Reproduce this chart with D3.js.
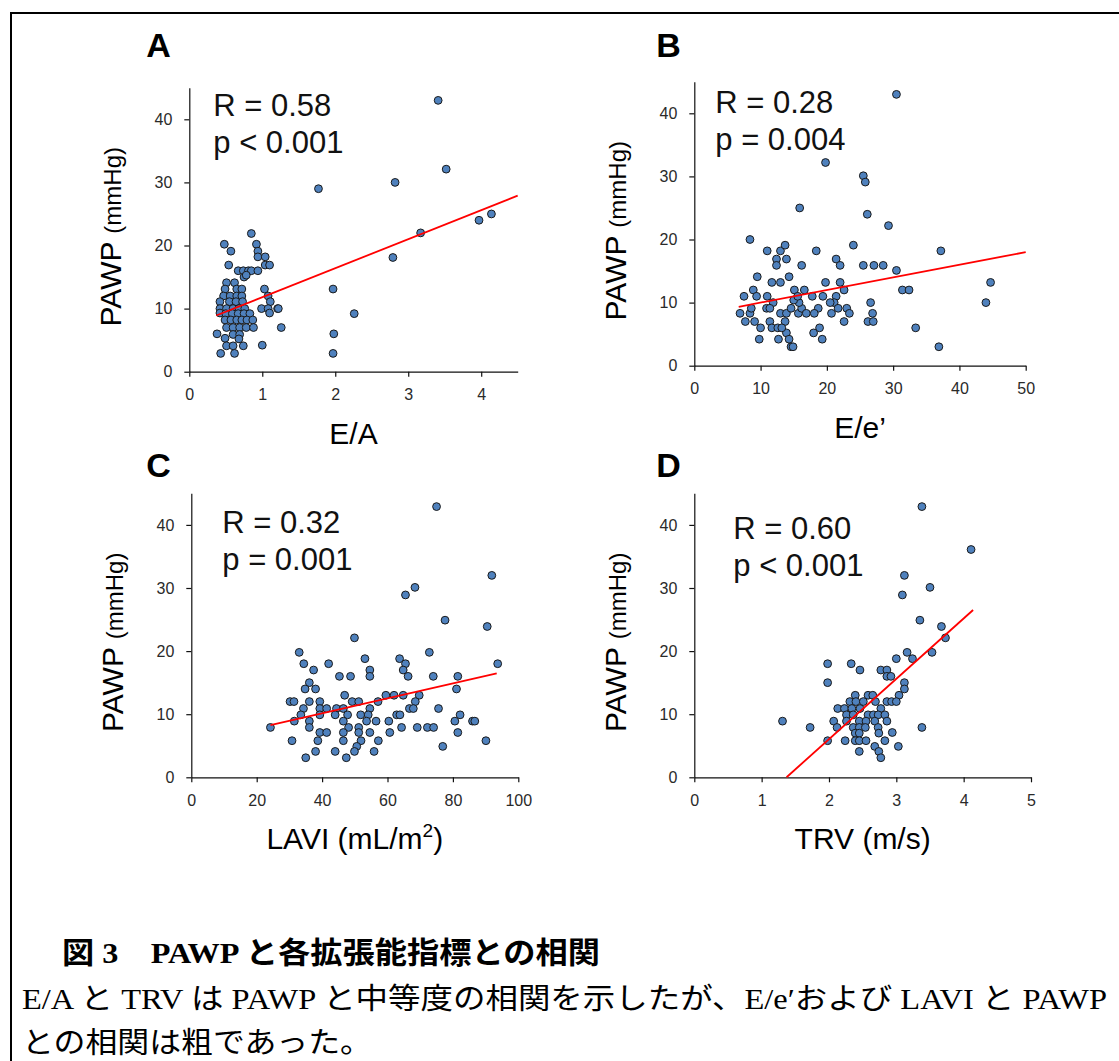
<!DOCTYPE html>
<html>
<head>
<meta charset="utf-8">
<script src="https://cdn.jsdelivr.net/npm/d3@7"></script>
<style>
  body { margin: 0; background: #fff; }
  svg { display: block; }
</style>
</head>
<body>
<script>
// ---- data ----
// A: E/A vs PAWP
const eaPoints = [
  [3.41, 43], [3.52, 32.1], [2.82, 30], [1.77, 29], [4.14, 25], [3.97, 24], [3.17, 22],
  [2.79, 18.1], [1.97, 13.1], [2.26, 9.2], [1.98, 6], [1.97, 2.9], [1.26, 7], [1.21, 10],
  [1.0, 4.2], [0.38, 6],
  [0.85, 21.9], [0.48, 20.2], [0.92, 20.2], [0.57, 19.1], [0.94, 19.1], [0.94, 18.2],
  [1.04, 18.2], [0.54, 16.9], [1.04, 16.9], [1.10, 16.9],
  [0.67, 16], [0.74, 16], [0.81, 16], [0.85, 16], [0.94, 16], [0.75, 15], [0.78, 15.3],
  [0.51, 14.1], [0.62, 14.1],
  [0.49, 13.1], [0.65, 13.1], [0.72, 13.1], [1.03, 13.1],
  [0.47, 12], [0.56, 12], [0.65, 12], [0.72, 12], [1.08, 12],
  [0.42, 11.1], [0.55, 11.1], [0.64, 11.1], [0.73, 11.1], [1.11, 11.1],
  [0.42, 10], [0.51, 10], [0.60, 10], [0.68, 10], [0.76, 10], [0.99, 10], [1.08, 10], [1.22, 10],
  [0.42, 9.3], [0.50, 9.2], [0.59, 9.2], [0.67, 9.2], [0.75, 9.2], [0.83, 9.2], [1.10, 9.3],
  [0.49, 8.2], [0.57, 8.2], [0.65, 8.2], [0.72, 8.2], [0.79, 8.2], [0.87, 8.2],
  [0.51, 7], [0.60, 7], [0.69, 7], [0.78, 7], [0.88, 7],
  [0.60, 5.9], [0.69, 5.9], [0.49, 5.3], [0.68, 5.2],
  [0.51, 4.1], [0.60, 4.1], [0.74, 4.1],
  [0.43, 2.9], [0.62, 2.9]
];
// B: E/e' vs PAWP
const eePoints = [
  [30.5, 43], [19.8, 32.2], [25.5, 30.1], [25.8, 29.1], [26.1, 24], [15.9, 25], [29.3, 22.2],
  [8.4, 20], [24.0, 19.1], [37.2, 18.2], [18.4, 18.2], [11.0, 18.2], [13.0, 18.2], [13.7, 19.1],
  [12.4, 16.9], [13.9, 16.9], [12.4, 15.9], [16.2, 15.9], [21.4, 16.9], [22.0, 15.9],
  [25.5, 15.9], [27.1, 15.9], [28.5, 15.9], [30.5, 15.1],
  [9.5, 14.1], [14.3, 14.1], [11.7, 13.2], [13.0, 13.2], [19.8, 13.2], [22.0, 13.2], [44.7, 13.2],
  [31.4, 12], [32.4, 12], [7.5, 11], [8.9, 12], [9.4, 11], [11.0, 11], [15.1, 12], [16.6, 12],
  [22.6, 12], [17.8, 11], [19.4, 11], [21.4, 11], [26.6, 10], [44.0, 10],
  [6.9, 8.3], [8.4, 8.3], [8.6, 9.1], [7.7, 7], [9.1, 7], [10.0, 6], [9.8, 4.2],
  [11.4, 7], [11.7, 6], [12.7, 4.2], [13.0, 8.3], [13.9, 8.3], [13.7, 7], [13.9, 5.2],
  [14.3, 4.2], [14.6, 3], [14.9, 3], [14.6, 9.1], [15.7, 8.3], [16.2, 9.1], [16.9, 8.3],
  [18.0, 5.2], [18.9, 6], [19.3, 4.2], [18.7, 9.1], [18.1, 8.3], [20.7, 8.3], [21.1, 10],
  [20.5, 10], [21.7, 9.1], [23.0, 9.1], [23.4, 8.3], [22.6, 7], [26.2, 7], [27.0, 7],
  [26.9, 8.3], [33.4, 6], [36.9, 3],
  [15.8, 10], [15.0, 10.4], [15.6, 11], [11.9, 10], [10.9, 9.1], [11.4, 9.1], [12.6, 6], [13.2, 6]
];
// C: LAVI vs PAWP
const laviPoints = [
  [75.0, 42.9], [91.9, 32], [68.4, 30.1], [65.5, 28.9], [77.6, 24.9], [90.5, 23.9], [49.9, 22.1],
  [33.0, 19.8], [72.8, 19.8], [63.7, 18.8], [53.1, 18.8], [34.4, 18], [42.0, 18], [65.5, 18],
  [93.7, 18], [37.4, 17], [54.6, 17], [64.8, 17], [45.3, 16], [48.7, 16], [54.6, 16], [66.3, 16],
  [74.0, 16], [81.5, 16], [36.1, 15], [34.8, 14], [38.0, 14], [81.1, 14],
  [46.9, 13], [59.5, 13], [62.0, 13], [64.8, 13], [69.7, 13],
  [30.2, 12], [31.4, 12], [36.1, 12], [39.3, 12], [49.2, 12], [51.2, 12], [57.1, 12], [68.5, 12],
  [34.3, 10.9], [39.3, 10.9], [41.4, 10.9], [44.4, 10.9], [46.5, 10.9], [54.6, 10.9], [66.7, 10.9],
  [67.9, 10.9], [75.6, 10.9],
  [33.5, 9.9], [39.3, 9.9], [44.0, 9.9], [47.8, 9.9], [51.8, 9.9], [54.1, 9.9], [62.8, 9.9],
  [63.8, 9.9], [82.2, 9.9],
  [31.5, 8.9], [36.1, 8.9], [46.5, 8.9], [53.6, 8.9], [56.5, 8.9], [60.4, 8.9], [80.6, 8.9],
  [86.0, 8.9], [86.7, 8.9],
  [24.2, 7.9], [36.1, 7.9], [48.1, 7.9], [51.2, 7.9], [64.3, 7.9], [69.1, 7.9], [72.2, 7.9], [74.1, 7.9],
  [39.3, 7.1], [41.4, 7.1], [46.5, 7.1], [51.2, 7.1], [54.6, 7.1], [60.7, 7.1], [81.5, 7.1],
  [30.8, 5.8], [38.7, 5.8], [46.5, 5.8], [51.9, 5.8], [57.2, 5.8], [90.1, 5.8],
  [50.6, 4.9], [76.9, 4.9], [38.0, 4.1], [44.0, 4.1], [49.9, 4.1], [55.9, 4.1],
  [35.0, 3.1], [47.4, 3.1]
];
// D: TRV vs PAWP
const trvPoints = [
  [3.38, 42.9], [4.11, 36.1], [3.12, 32], [3.50, 30.1], [3.09, 28.9], [3.35, 24.9], [3.67, 23.9],
  [3.73, 22.1], [3.16, 19.8], [3.53, 19.8], [3.00, 18.8], [3.24, 18.8], [1.98, 18], [2.33, 18],
  [2.46, 17], [2.77, 17], [2.86, 17], [2.86, 16], [2.92, 16], [1.98, 15], [3.12, 15], [3.12, 14],
  [3.04, 13], [2.39, 13], [2.58, 13], [2.65, 13],
  [2.31, 12], [2.40, 12], [2.51, 12], [2.69, 12], [2.86, 12], [2.93, 12], [3.00, 12],
  [2.13, 10.9], [2.23, 10.9], [2.34, 10.9], [2.46, 10.9], [2.77, 10.9],
  [2.26, 9.9], [2.36, 9.9], [2.58, 9.9], [2.66, 9.9], [2.73, 9.9], [2.83, 9.9],
  [2.07, 8.9], [2.26, 8.9], [2.45, 8.9], [2.55, 8.9], [2.68, 8.9], [2.86, 8.9], [1.31, 8.9],
  [1.72, 7.9], [2.12, 7.9], [2.36, 7.9], [2.45, 7.9], [2.54, 7.9], [2.73, 7.9], [3.38, 7.9],
  [2.39, 7], [2.45, 7], [2.74, 7], [2.94, 7.1],
  [1.98, 5.8], [2.24, 5.8], [2.39, 5.8], [2.45, 5.8], [2.55, 5.8], [2.83, 5.8],
  [2.68, 4.9], [3.03, 4.9], [2.45, 4.1], [2.74, 4.1], [2.77, 3.1]
];

// regression lines: [intercept, slope, xStart, xEnd]
const eaFit = [7.2, 4.6, 0.37, 4.5];
const eeFit = [8.0, 0.2, 6.7, 50];
const laviFit = [5.37, 0.119, 24.2, 93.4];
const trvFit = [-13.1, 9.57, 1.37, 4.14];

// tick values
const yTicks = [0, 10, 20, 30, 40];
const eaTicks = [0, 1, 2, 3, 4];
const eeTicks = [0, 10, 20, 30, 40, 50];
const laviTicks = [0, 20, 40, 60, 80, 100];
const trvTicks = [0, 1, 2, 3, 4, 5];

const stats = [
  ['R = 0.58', 'p < 0.001'],
  ['R = 0.28', 'p = 0.004'],
  ['R = 0.32', 'p = 0.001'],
  ['R = 0.60', 'p < 0.001']
];

const captionTitle = '図 3　PAWP と各拡張能指標との相関';
const captionLines = [
  'E/A と TRV は PAWP と中等度の相関を示したが、E/e′および LAVI と PAWP',
  'との相関は粗であった。'
];

// ---- layout ----
const W = 1119, H = 1061;
const SANS = "'Liberation Sans', Arial, sans-serif";

const svg = d3.select('body').append('svg')
  .attr('width', W)
  .attr('height', H);

svg.append('rect').attr('width', W).attr('height', H).attr('fill', '#fff');

// frame (top and left edge of the figure box)
svg.append('path')
  .attr('d', `M11,${H} V13 H${W}`)
  .attr('fill', 'none')
  .attr('stroke', '#000')
  .attr('stroke-width', 2);

const panels = [
  { label: 'A', pts: eaPoints, fit: eaFit, xMax: 4.5, ticks: eaTicks,
    box: [189.3, 517.7, 371.7], xTitle: [['E/A']], stat: [24, 116], lab: [-43, 57] },
  { label: 'B', pts: eePoints, fit: eeFit, xMax: 50, ticks: eeTicks,
    box: [694.3, 1025.7, 365.7], xTitle: [['E/e’']], stat: [21, 113], lab: [-38, 57] },
  { label: 'C', pts: laviPoints, fit: laviFit, xMax: 100, ticks: laviTicks,
    box: [191.3, 518.3, 777.3], xTitle: [['LAVI (mL/m'], ['2', true], [')']], stat: [31, 533], lab: [-45, 477] },
  { label: 'D', pts: trvPoints, fit: trvFit, xMax: 5, ticks: trvTicks,
    box: [694.3, 1031, 777.3], xTitle: [['TRV (m/s)']], stat: [39, 539], lab: [-38, 477] }
];

panels.forEach((p, i) => {
  const [left, right, bottom] = p.box;
  const top = bottom - 45 * 6.31;

  const x = d3.scaleLinear().domain([0, p.xMax]).range([left, right]);
  const y = d3.scaleLinear().domain([0, 45]).range([bottom, top]);

  const g = svg.append('g');

  // axes
  const xAxis = g.append('g')
    .attr('transform', `translate(0,${bottom})`)
    .call(d3.axisBottom(x).tickValues(p.ticks).tickFormat(d3.format('d'))
      .tickSize(5).tickSizeOuter(0).tickPadding(12));
  const yAxis = g.append('g')
    .attr('transform', `translate(${left},0)`)
    .call(d3.axisLeft(y).tickValues(yTicks).tickFormat(d3.format('d'))
      .tickSize(5).tickSizeOuter(0).tickPadding(12));

  [xAxis, yAxis].forEach(a => {
    a.select('.domain').attr('stroke', '#111').attr('stroke-width', 1.2);
    a.selectAll('.tick line').attr('stroke', '#111').attr('stroke-width', 1.2);
    a.selectAll('.tick text')
      .attr('fill', '#2a2a2a')
      .style('font-family', SANS)
      .style('font-size', '16px');
  });

  // points
  g.append('g').selectAll('circle')
    .data(p.pts)
    .join('circle')
    .attr('cx', d => x(d[0]))
    .attr('cy', d => y(d[1]))
    .attr('r', 3.9)
    .attr('fill', '#4f81bd')
    .attr('stroke', '#1a1a1a')
    .attr('stroke-width', 1);

  // regression line
  const [a, b, x0, x1] = p.fit;
  g.append('line')
    .attr('x1', x(x0)).attr('y1', y(a + b * x0))
    .attr('x2', x(x1)).attr('y2', y(a + b * x1))
    .attr('stroke', '#ff0000')
    .attr('stroke-width', 1.8);

  // stats text
  const st = g.append('text')
    .attr('x', left + p.stat[0])
    .attr('y', p.stat[1])
    .attr('fill', '#111')
    .style('font-family', SANS)
    .style('font-size', '31px');
  st.selectAll('tspan')
    .data(stats[i])
    .join('tspan')
    .attr('x', left + p.stat[0])
    .attr('dy', (d, j) => j === 0 ? 0 : 37)
    .text(d => d);

  // panel label
  g.append('text')
    .attr('x', left + p.lab[0])
    .attr('y', p.lab[1])
    .attr('fill', '#000')
    .style('font-family', SANS)
    .style('font-weight', 'bold')
    .style('font-size', '34px')
    .text(p.label);

  // y title
  const yt = g.append('text')
    .attr('transform', `translate(${left - 68},${(top + bottom) / 2 + 7}) rotate(-90)`)
    .attr('text-anchor', 'middle')
    .attr('fill', '#000')
    .style('font-family', SANS);
  yt.append('tspan').style('font-size', '30px').text('PAWP ');
  yt.append('tspan').style('font-size', '24px').text('(mmHg)');

  // x title
  const xt = g.append('text')
    .attr('x', (left + right) / 2)
    .attr('y', bottom + 72)
    .attr('text-anchor', 'middle')
    .attr('fill', '#000')
    .style('font-family', SANS)
    .style('font-size', '30px');
  p.xTitle.forEach(([s, sup]) => {
    const t = xt.append('tspan').text(s);
    if (sup) t.style('font-size', '19px').attr('dy', -12);
    else if (xt.selectAll('tspan').size() > 1) t.attr('dy', 12);
  });
});

// caption
const SERIF = "'Liberation Serif', 'Times New Roman', 'Noto Sans CJK JP', serif";
svg.append('text')
  .attr('x', 62)
  .attr('y', 963)
  .attr('textLength', 538)
  .attr('lengthAdjust', 'spacingAndGlyphs')
  .attr('fill', '#000')
  .style('font-family', SERIF)
  .style('font-weight', 'bold')
  .style('font-size', '30px')
  .text(captionTitle);

svg.selectAll('text.body')
  .data(captionLines)
  .join('text')
  .attr('class', 'body')
  .attr('x', 22)
  .attr('y', (d, i) => 1009 + i * 44)
  .attr('textLength', (d, i) => i === 0 ? 1085 : 350)
  .attr('lengthAdjust', 'spacingAndGlyphs')
  .attr('fill', '#000')
  .style('font-family', SERIF)
  .style('font-size', '29px')
  .text(d => d);
</script>
</body>
</html>
